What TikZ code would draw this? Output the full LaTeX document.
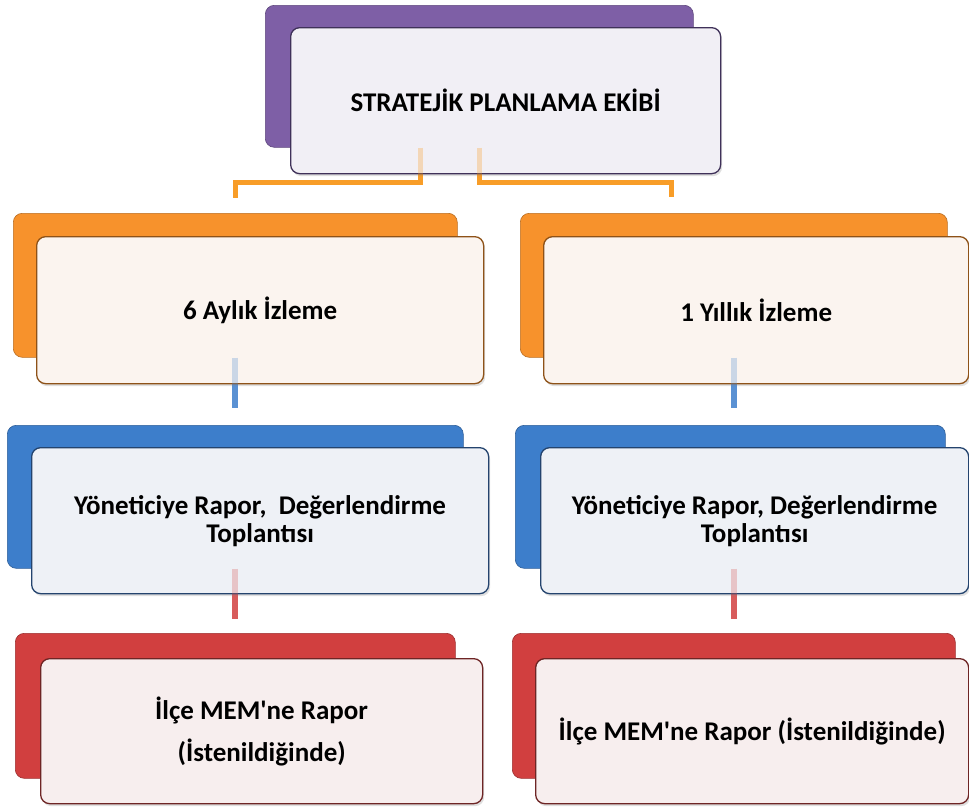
\documentclass[tikz,border=0pt]{standalone}
\usepackage{fontspec}
\setmainfont{Carlito}
\usetikzlibrary{shadows}

\definecolor{mor}{HTML}{7E5FA6}
\definecolor{morkoyu}{HTML}{3F3159}
\definecolor{moracik}{HTML}{F1EFF5}
\definecolor{turuncu}{HTML}{F7922C}
\definecolor{turuncukoyu}{HTML}{8E5218}
\definecolor{turuncuacik}{HTML}{FBF4EF}
\definecolor{mavi}{HTML}{3D7ECB}
\definecolor{mavikoyu}{HTML}{24446E}
\definecolor{maviacik}{HTML}{EEF1F6}
\definecolor{kirmizi}{HTML}{D13F3F}
\definecolor{kirmizikoyu}{HTML}{6E2525}
\definecolor{kirmiziacik}{HTML}{F7EEEE}

\tikzset{
  arka/.style={rounded corners=9pt, fill=#1, draw=#1!75!black, line width=0.6pt,
    anchor=north west, inner sep=0pt},
  on/.style 2 args={rounded corners=9pt, fill=#1, draw=#2, line width=1.3pt,
    anchor=north west, inner sep=0pt, align=center,
    drop shadow={opacity=0.25, shadow xshift=1.5pt, shadow yshift=-2.5pt}},
  baglanti/.style={line width=#1}
}

\begin{document}
\begin{tikzpicture}[x=1pt, y=-1pt, font=\bfseries\fontsize{27}{28}\selectfont]
\useasboundingbox (0,0) rectangle (969,807);
\def\baglantilar{
  \draw[baglanti=5pt, draw=turuncu!90!yellow, shorten >=15pt] ([xshift=-59pt]ustb.south) -- ++(0,35) -| (solikib.north);
  \draw[baglanti=5pt, draw=turuncu!90!yellow, shorten >=16pt] (ustb.south) -- ++(0,35) -| ([xshift=-62pt]sagikib.north);
  \draw[baglanti=6pt, draw=mavi!85!white, shorten >=17pt] (solikib.south) -- (solucb.north);
  \draw[baglanti=6pt, draw=mavi!85!white, shorten >=17pt] (sagikib.south) -- (sagikib.south |- solucb.north);
  \draw[baglanti=6pt, draw=kirmizi!85!white, shorten >=14pt] (solucb.south) -- (soldortb.north);
  \draw[baglanti=6pt, draw=kirmizi!85!white, shorten >=14pt] (sagdortb.north |- sagucb.south) -- (sagdortb.north);
}

% arka kutular
\node[arka=mor, minimum width=428pt, minimum height=142pt] (ustb) at (265,5) {};
\node[arka=turuncu, minimum width=444pt, minimum height=144pt] (solikib) at (13,213) {};
\node[arka=turuncu, minimum width=427pt, minimum height=144pt] (sagikib) at (520,213) {};
\node[arka=mavi, minimum width=456pt, minimum height=143pt] (solucb) at (7,425) {};
\node[arka=mavi, minimum width=430pt, minimum height=143pt] (sagucb) at (515,425) {};
\node[arka=kirmizi, minimum width=440pt, minimum height=145pt] (soldortb) at (15,633) {};
\node[arka=kirmizi, minimum width=443pt, minimum height=145pt] (sagdortb) at (512,633) {};

% baglantilar
\baglantilar

% on kutular
\node[on={moracik}{morkoyu}, minimum width=430pt, minimum height=146pt] (ustf) at (290,27) {STRATEJİK PLANLAMA EKİBİ};

\node[on={turuncuacik}{turuncukoyu}, minimum width=447pt, minimum height=147pt] (solikif) at (36,236) {6 Aylık İzleme};
\node[on={turuncuacik}{turuncukoyu}, minimum width=425pt, minimum height=147pt] (sagikif) at (543,236) {1 Yıllık İzleme};

\node[on={maviacik}{mavikoyu}, minimum width=457pt, minimum height=146pt] (solucf) at (31,447) {Yöneticiye Rapor,\ \ Değerlendirme\\Toplantısı};
\node[on={maviacik}{mavikoyu}, minimum width=428pt, minimum height=146pt] (sagucf) at (540,447) {Yöneticiye Rapor, Değerlendirme\\Toplantısı};

\node[on={kirmiziacik}{kirmizikoyu}, minimum width=442pt, minimum height=145pt] (soldortf) at (40,658) {İlçe MEM\textquotesingle ne Rapor\\[14pt](İstenildiğinde)};
\node[on={kirmiziacik}{kirmizikoyu}, minimum width=433pt, minimum height=145pt] (sagdortf) at (535,658) {İlçe MEM\textquotesingle ne Rapor (İstenildiğinde)};

% kutularin icinden soluk gorunen cizgiler
\begin{scope}[opacity=0.3]
\baglantilar
\end{scope}

\end{tikzpicture}
\end{document}
